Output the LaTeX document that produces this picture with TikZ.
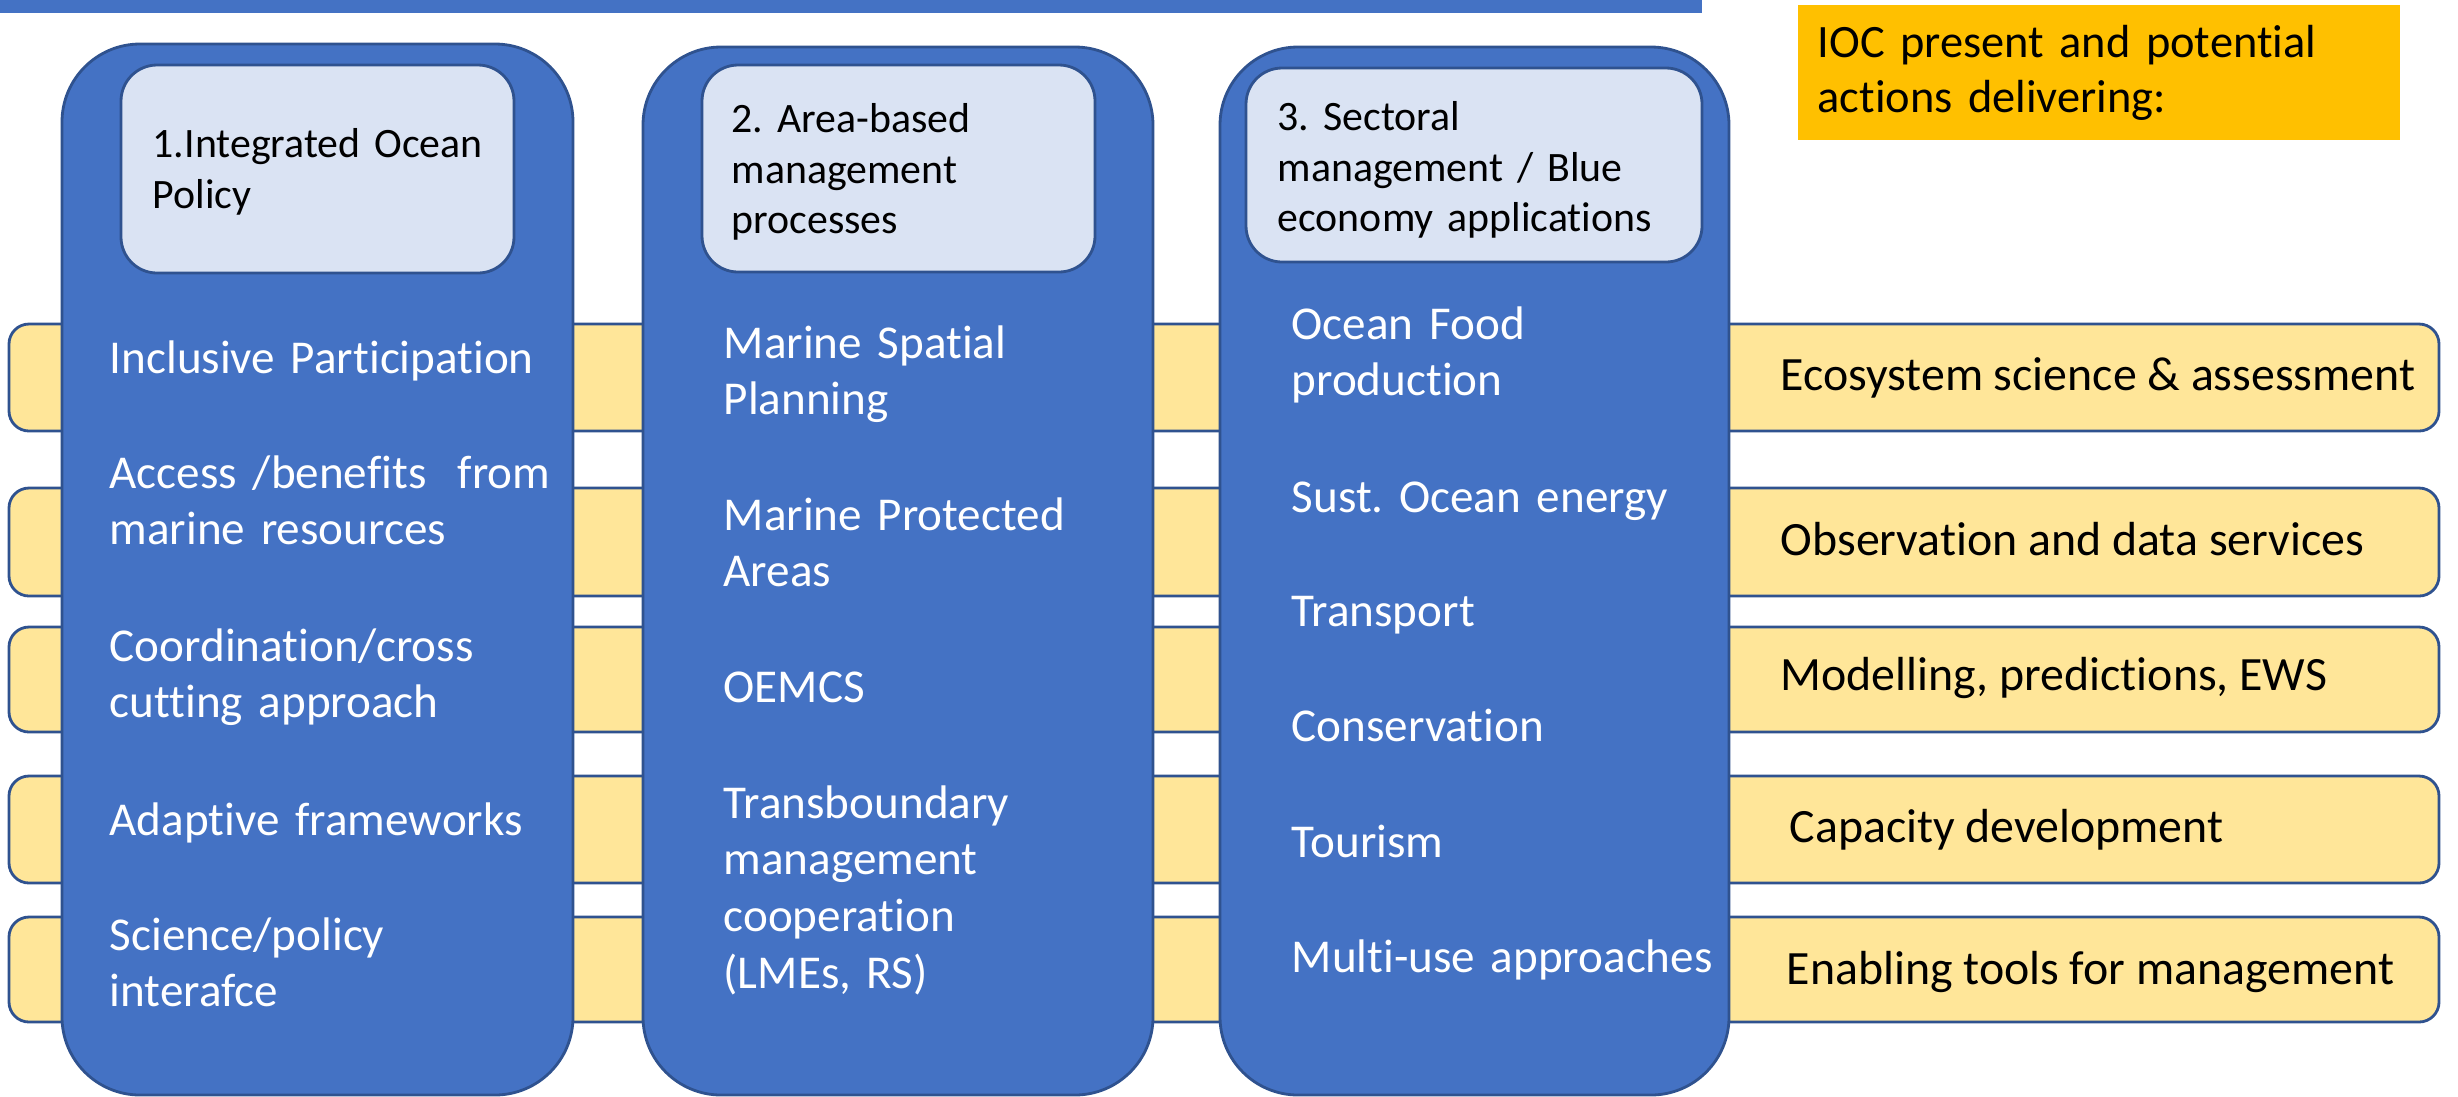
\documentclass[tikz,border=0pt]{standalone}
\usepackage{fontspec}
\setmainfont{Carlito}[Ligatures=NoCommon]
\usepackage{tikz}
\usepackage{xcolor}
\frenchspacing

\definecolor{colblue}{HTML}{4472C4}
\definecolor{edgeblue}{HTML}{2F528F}
\definecolor{headfill}{HTML}{DAE3F3}
\definecolor{barfill}{HTML}{FFE699}
\definecolor{iocorange}{HTML}{FFC000}

\begin{document}
\begin{tikzpicture}[x=0.01cm, y=-0.01cm,
    colbox/.style={fill=colblue, draw=edgeblue, line width=0.8pt, rounded corners=0.78cm},
    headbox/.style={fill=headfill, draw=edgeblue, line width=0.8pt, rounded corners=0.36cm},
    barbox/.style={fill=barfill, draw=edgeblue, line width=0.8pt, rounded corners=0.2cm},
    itemtext/.style={anchor=base west, inner sep=0pt, text=white, align=left, text width=6cm, font=\fontsize{13.4}{16.2}\selectfont},
    headtext/.style={anchor=base west, inner sep=0pt, align=left, text width=5cm, font=\fontsize{11.9}{14.5}\selectfont},
    bartext/.style={anchor=base west, inner sep=0pt, font=\fontsize{13.6}{16}\selectfont}]
    \useasboundingbox (0,0) rectangle (2458,1096);

    % Top rule and title box
    \fill[colblue] (0,0) rectangle (1702,13);
    \fill[iocorange] (1798,5) rectangle (2400,140);
    \node[bartext, align=left, text width=5.8cm, font=\fontsize{13.2}{15.9}\selectfont] (ioc) at (1817,57)
        {IOC present and potential\\actions delivering:};

    % Horizontal action bars
    \foreach \ya/\yb in {324/431, 488/596, 627/732, 776/883, 917/1022}
        \draw[barbox] (9,\ya) rectangle (2439,\yb);

    % Columns
    \draw[colbox] (62,44) rectangle (573,1095);
    \draw[colbox] (643,47) rectangle (1153,1095);
    \draw[colbox] (1220,47) rectangle (1729,1095);

    % Column headers
    \draw[headbox] (121,65) rectangle (514,273);
    \draw[headbox] (702,65) rectangle (1095,272);
    \draw[headbox] (1246,68) rectangle (1702,262);
    \node[headtext] (h1) at (152,157) {1.Integrated Ocean\\Policy};
    \node[headtext] (h2) at (731,132) {2. Area-based\\management\\processes};
    \node[headtext] (h3) at (1277,130) {3. Sectoral\\management / Blue\\economy applications};

    % Column 1 items
    \node[itemtext] (a1) at (109,373) {Inclusive Participation};
    \node[itemtext] (a2) at (109,488) {Access /benefits~~from\\marine resources};
    \node[itemtext] (a3) at (109,661) {Coordination/cross\\cutting approach};
    \node[itemtext] (a4) at (109,835) {Adaptive frameworks};
    \node[itemtext] (a5) at (109,950) {Science/policy\\interafce};

    % Column 2 items
    \node[itemtext] (b1) at (723,358) {Marine Spatial\\Planning};
    \node[itemtext] (b2) at (723,530) {Marine Protected\\Areas};
    \node[itemtext] (b3) at (723,702) {OEMCS};
    \node[itemtext] (b4) at (723,818) {Transboundary\\management\\cooperation\\(LMEs, RS)};

    % Column 3 items
    \node[itemtext] (c1) at (1291,339) {Ocean Food\\production};
    \node[itemtext] (c2) at (1291,512) {Sust. Ocean energy};
    \node[itemtext] (c3) at (1291,626) {Transport};
    \node[itemtext] (c4) at (1291,741) {Conservation};
    \node[itemtext] (c5) at (1291,857) {Tourism};
    \node[itemtext] (c6) at (1291,972) {Multi-use approaches};

    % Bar labels
    \node[bartext] (d1) at (1780,390) {Ecosystem science \& assessment};
    \node[bartext] (d2) at (1780,555) {Observation and data services};
    \node[bartext] (d3) at (1780,690) {Modelling, predictions, EWS};
    \node[bartext] (d4) at (1789,842) {Capacity development};
    \node[bartext] (d5) at (1786,984) {Enabling tools for management};
\end{tikzpicture}
\end{document}
